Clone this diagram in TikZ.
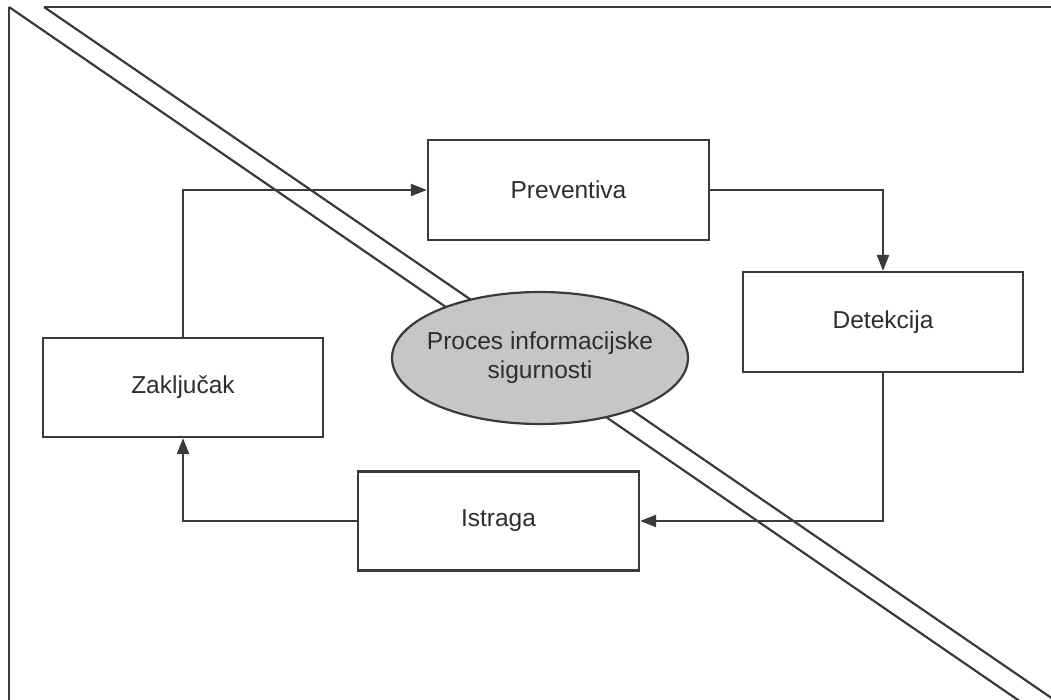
\documentclass[tikz,border=0pt]{standalone}
\usepackage{fontspec}
\setmainfont{Liberation Sans}
\usetikzlibrary{arrows.meta,shapes.geometric}
\definecolor{ln}{HTML}{3A3A3A}
\definecolor{txt}{HTML}{2E2E2E}
\definecolor{ellfill}{HTML}{C6C6C6}
\tikzset{
  box/.style={draw=ln, line width=2.2pt, fill=white, rectangle, minimum width=280pt, minimum height=100pt, inner sep=0pt, text=txt, font=\fontsize{24.5}{29}\selectfont},
  proc/.style={draw=ln, line width=2.2pt, fill=ellfill, ellipse, minimum width=296pt, minimum height=132pt, inner sep=0pt},
  proctext/.style={align=center, text=txt, font=\fontsize{24.5}{29}\selectfont},
  conn/.style={draw=ln, line width=2.2pt, -{Triangle[length=16pt,width=12pt]}},
  frameline/.style={draw=ln, line width=2.2pt},
}
\begin{document}
\begin{tikzpicture}[x=1pt,y=-1pt]
\useasboundingbox (0,0) rectangle (1051,700);
\begin{scope}
\clip (0,0) rectangle (1051,700);
% frame
\coordinate (ftl) at (44,7);
\coordinate (ftr) at (1060,7);
\coordinate (flt) at (9,7);
\coordinate (flb) at (9,710);
\coordinate (d1e) at (1032.6,710);
\coordinate (d2e) at (1060,703.8);
\draw[frameline] (ftl) -- (ftr);
\draw[frameline] (flt) -- (flb);
\draw[frameline] (flt) -- (d1e);
\draw[frameline] (ftl) -- (d2e);
\end{scope}
% nodes
\node[box, minimum width=281pt] (prev) at (568.5,190) {Preventiva};
\node[box] (det) at (883,322) {Detekcija};
\node[box, minimum height=99pt] (zak) at (183,387.5) {Zaključak};
\node[box, minimum width=281pt, minimum height=99pt] (ist) at (498.5,521) {Istraga};
\node[proc, label={[proctext]center:Proces informacijske\\sigurnosti}] (core) at (540,358) {};
% connectors
\draw[conn] (zak.north) |- (prev.west);
\draw[conn] (prev.east) -| (det.north);
\draw[conn] (det.south) |- (ist.east);
\draw[conn] (ist.west) -| (zak.south);
\end{tikzpicture}
\end{document}
